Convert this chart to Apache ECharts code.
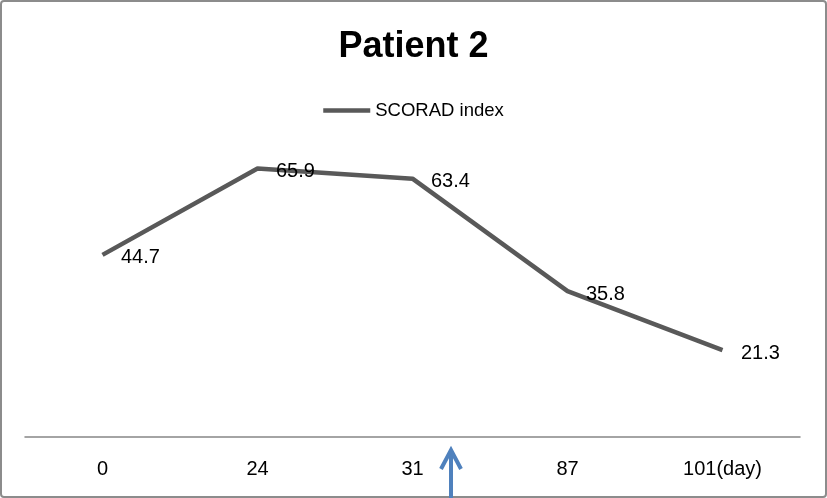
<!DOCTYPE html>
<html>
<head>
<meta charset="utf-8">
<script src="https://cdn.jsdelivr.net/npm/echarts@6/dist/echarts.min.js"></script>
<style>
html,body{margin:0;padding:0;background:#fff;}
#chart{width:827px;height:498px;}
</style>
</head>
<body>
<div id="chart"></div>
<script>
var categories = ['0', '24', '31', '87', '101(day)'];
var scoradValues = [44.7, 65.9, 63.4, 35.8, 21.3];
var seriesName = 'SCORAD index';
var titleText = 'Patient 2';

var font = '"Liberation Sans", Arial, sans-serif';
var chart = echarts.init(document.getElementById('chart'), null, {renderer: 'canvas'});
chart.setOption({
  backgroundColor: '#ffffff',
  animation: false,
  title: {
    text: titleText,
    left: 'center',
    top: 24,
    textStyle: {fontFamily: font, fontSize: 36, fontWeight: 'bold', color: '#000'}
  },
  legend: {
    data: [seriesName],
    left: 'center',
    top: 96,
    itemWidth: 47,
    itemHeight: 14,
    itemGap: 5,
    textStyle: {fontFamily: font, fontSize: 18.5, color: '#000'},
    icon: 'path://M0,0 L47,0 L47,4.5 L0,4.5 Z',
    itemStyle: {color: '#595959'}
  },
  grid: {left: 25, right: 27, top: 111, bottom: 61},
  xAxis: {
    type: 'category',
    data: categories,
    boundaryGap: true,
    axisLine: {show: true, lineStyle: {color: '#868686', width: 1.5}},
    axisTick: {show: false},
    axisLabel: {fontFamily: font, fontSize: 20, color: '#000', margin: 22}
  },
  yAxis: {
    type: 'value',
    min: 0,
    max: 80,
    show: false,
    splitLine: {show: false}
  },
  series: [{
    name: seriesName,
    type: 'line',
    data: scoradValues,
    symbol: 'circle',
    symbolSize: 1,
    showSymbol: true,
    itemStyle: {color: 'rgba(89,89,89,0)'},
    lineStyle: {color: '#595959', width: 4.5},
    label: {
      show: true,
      position: 'right',
      distance: 18,
      offset: [0, 3],
      fontFamily: font,
      fontSize: 20,
      color: '#000'
    }
  }],
  graphic: [
    {
      type: 'rect',
      shape: {x: 1, y: 1, width: 825, height: 496, r: 3},
      style: {fill: 'none', stroke: '#8c8c8c', lineWidth: 2},
      silent: true
    },
    {
      type: 'polyline',
      shape: {points: [[451, 452], [451, 498]]},
      style: {stroke: '#4f81bd', lineWidth: 4, fill: 'none'},
      silent: true
    },
    {
      type: 'polyline',
      shape: {points: [[441, 469], [451, 450], [461, 469]]},
      style: {stroke: '#4f81bd', lineWidth: 4, fill: 'none', lineJoin: 'miter'},
      silent: true
    }
  ]
});
</script>
</body>
</html>
